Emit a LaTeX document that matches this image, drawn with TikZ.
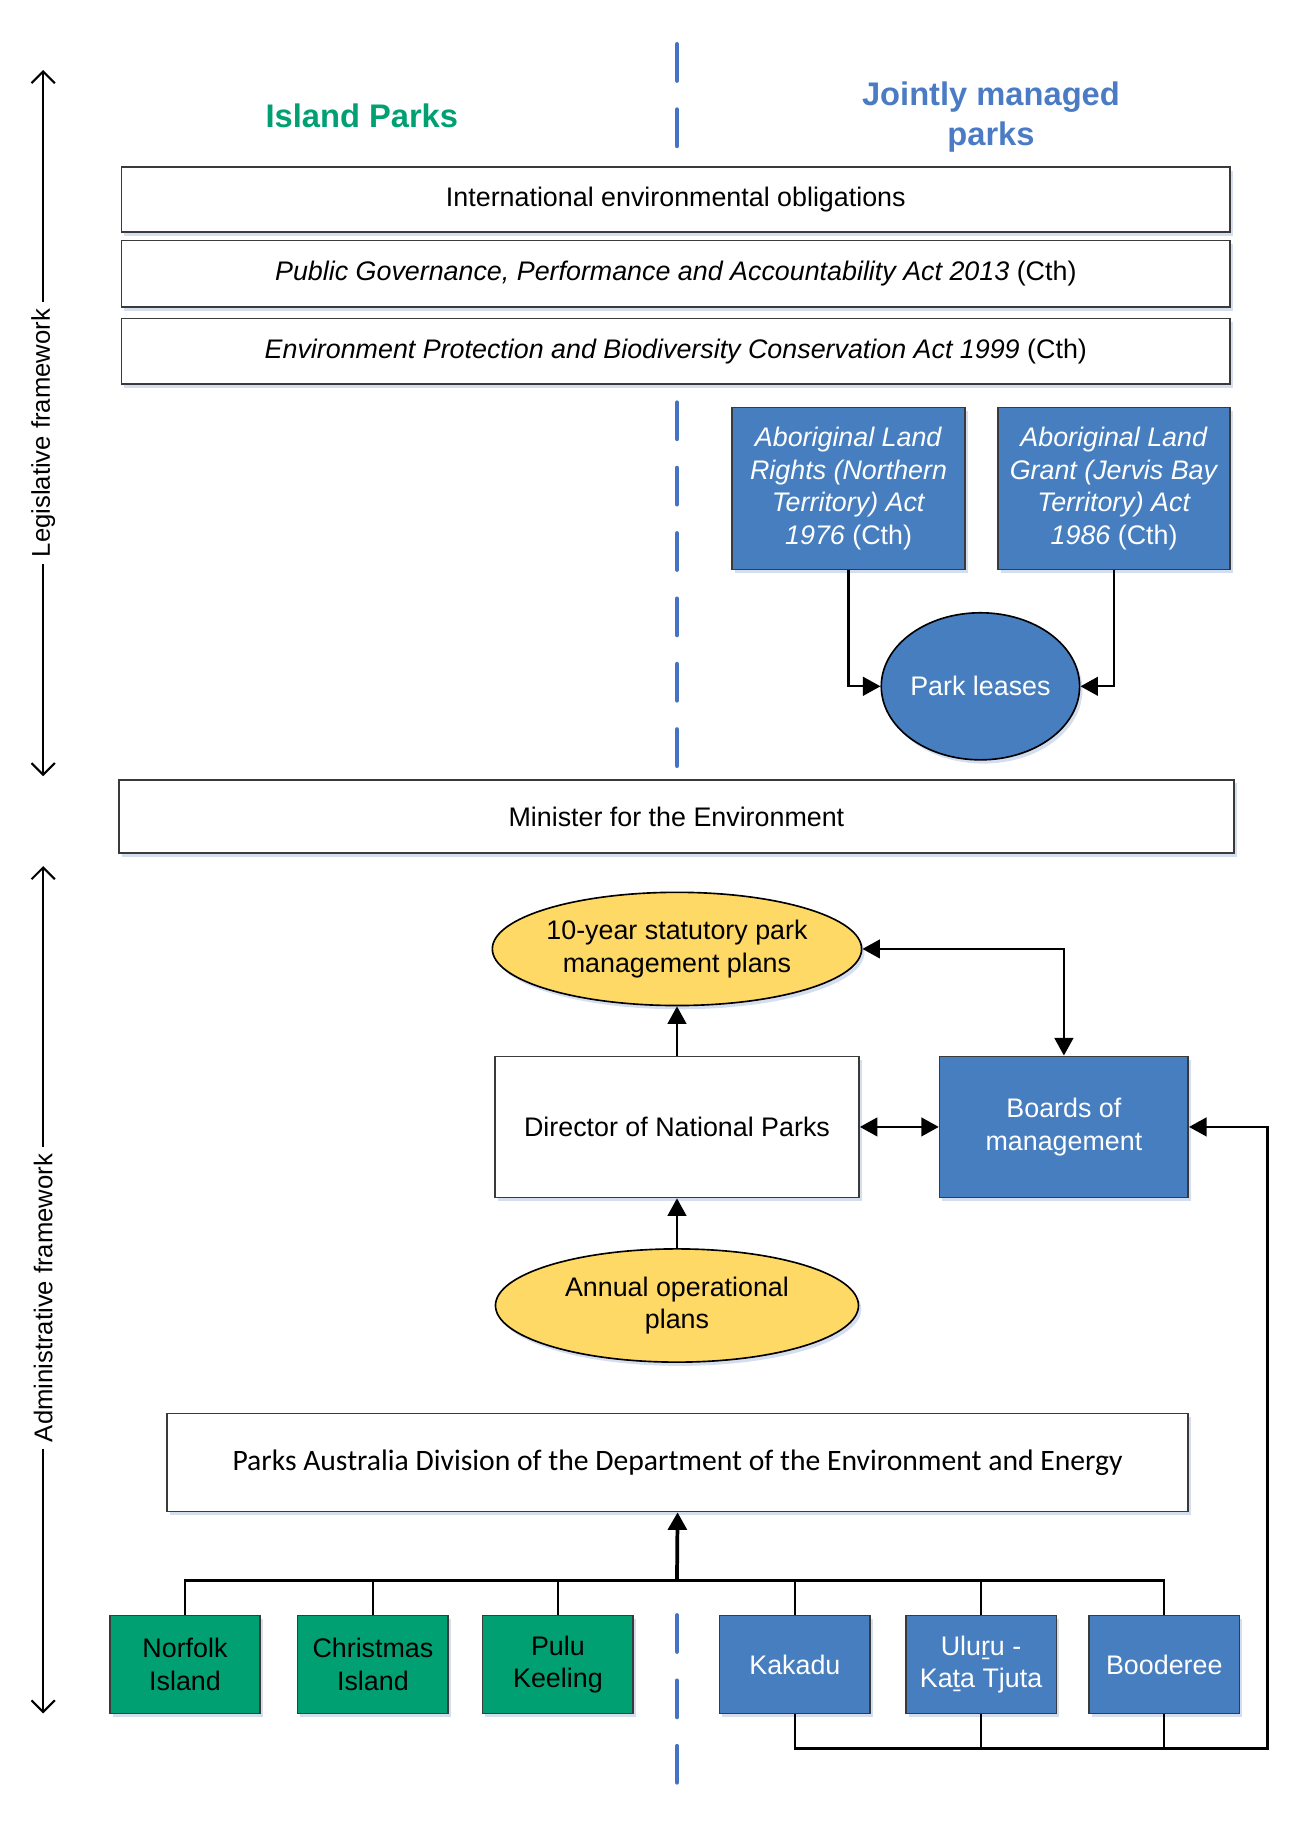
\documentclass[tikz,border=0pt]{standalone}
\usepackage{fontspec}
\setmainfont{Liberation Sans}
\newfontfamily\calibrifont{Carlito}
\usetikzlibrary{arrows.meta,shapes.geometric,shadows}
\definecolor{pblue}{HTML}{467EC0}
\definecolor{dblue}{HTML}{4472C4}
\definecolor{tblue}{HTML}{4A7BC4}
\definecolor{pgreen}{HTML}{00A073}
\definecolor{pyellow}{HTML}{FFD966}
\definecolor{bordc}{HTML}{3A3A3A}
\definecolor{shadc}{HTML}{C9D6EA}
\begin{document}
\begin{tikzpicture}[x=0.5pt,y=-0.5pt,
  font=\fontsize{11.5}{13.9}\selectfont,
  shad/.style={drop shadow={shadow xshift=1.2pt,shadow yshift=-1.6pt,fill=shadc,opacity=0.8}},
  wbox/.style={draw=bordc,line width=0.7pt,fill=white,inner sep=2pt,align=center,shad},
  bbox/.style={draw=bordc,line width=0.7pt,fill=pblue,text=white,inner sep=2pt,align=center,shad},
  gbox/.style={draw=bordc,line width=0.7pt,fill=pgreen,text=black,inner sep=2pt,align=center,shad},
  yell/.style={ellipse,draw=black,line width=0.7pt,fill=pyellow,inner sep=0pt,align=center,minimum width=155.5pt,minimum height=48.5pt,shad},
  conn/.style={draw=black,line width=1pt,-{Triangle[length=7.5pt,width=8pt]}},
  biconn/.style={draw=black,line width=1pt,{Triangle[length=7.5pt,width=8pt]}-{Triangle[length=7.5pt,width=8pt]}},
  line/.style={draw=black,line width=1pt},
  divider/.style={draw=dblue,line width=2pt,line cap=round,dash pattern=on 15.5pt off 12.5pt},
  sidearr/.style={draw=black,line width=0.9pt,{Straight Barb[length=5pt,width=10pt]}-{Straight Barb[length=5pt,width=10pt]}},
  sidelabel/.style={rotate=90,fill=white,inner sep=3pt,font=\fontsize{11}{13}\selectfont},
  title/.style={font=\fontsize{14}{17}\bfseries\selectfont,align=center}
]
\useasboundingbox (0,0) rectangle (1115,1567);

% dashed divider
\coordinate (d1a) at (580,38);  \coordinate (d1b) at (580,129);
\coordinate (d2a) at (580,345); \coordinate (d2b) at (580,658);
\coordinate (d3a) at (580,1384); \coordinate (d3b) at (580,1528);
\draw[divider] (d1a) -- (d1b);
\draw[divider] (d2a) -- (d2b);
\draw[divider] (d3a) -- (d3b);

% titles
\node[title,text=pgreen] (island) at (310,99) {Island Parks};
\node[title,text=tblue] (joint) at (849,100) {Jointly managed\\parks};

% side arrows
\coordinate (la) at (37,60); \coordinate (lb) at (37,665);
\draw[sidearr] (la) -- (lb);
\node[sidelabel] (leglab) at (37,371) {Legislative framework};
\coordinate (aa) at (37,742); \coordinate (ab) at (37,1468);
\draw[sidearr] (aa) -- (ab);
\node[sidelabel] (admlab) at (37,1112) {Administrative framework};

% legislative boxes
\node[wbox,minimum width=475pt,minimum height=28pt] (intl) at (579,171) {International environmental obligations};
\node[wbox,minimum width=475pt,minimum height=28.5pt] (pgpa) at (579,234.5) {\textit{Public Governance, Performance and Accountability Act 2013} (Cth)};
\node[wbox,minimum width=475pt,minimum height=28pt] (epbc) at (579,301) {\textit{Environment Protection and Biodiversity Conservation Act 1999} (Cth)};

\node[bbox,minimum width=100pt,minimum height=69.5pt] (alr) at (727,418.5) {\textit{Aboriginal Land}\\\textit{Rights (Northern}\\\textit{Territory) Act}\\\textit{1976} (Cth)};
\node[bbox,minimum width=99.5pt,minimum height=69.5pt] (alg) at (954.5,418.5) {\textit{Aboriginal Land}\\\textit{Grant (Jervis Bay}\\\textit{Territory) Act}\\\textit{1986} (Cth)};
\node[ellipse,draw=black,line width=0.7pt,fill=pblue,text=white,inner sep=0pt,minimum width=83pt,minimum height=63pt,shad] (lease) at (840,588) {Park leases};

\draw[conn] (alr.south) |- (lease.west);
\draw[conn] (alg.south) |- (lease.east);

\node[wbox,minimum width=477.5pt,minimum height=31.5pt] (minister) at (579.5,699.5) {Minister for the Environment};

% administrative
\node[yell] (plan10) at (580,813) {10-year statutory park\\management plans};
\node[wbox,minimum width=156pt,minimum height=60.5pt] (director) at (580,965.5) {Director of National Parks};
\node[bbox,minimum width=106.5pt,minimum height=60.5pt] (boards) at (911.5,965.5) {Boards of\\management};
\node[yell] (annual) at (580,1118.5) {Annual operational\\plans};
\node[wbox,minimum width=437.5pt,minimum height=42pt,font=\calibrifont\fontsize{12.7}{15}\selectfont] (pa) at (580.5,1253) {Parks Australia Division of the Department of the Environment and Energy};

\node[gbox,minimum width=64.5pt,minimum height=42pt] (norfolk) at (158.5,1426) {Norfolk\\Island};
\node[gbox,minimum width=64.5pt,minimum height=42pt] (christmas) at (319.5,1426) {Christmas\\Island};
\node[gbox,minimum width=64.5pt,minimum height=42pt] (pulu) at (478,1426) {Pulu\\Keeling};
\node[bbox,minimum width=64.5pt,minimum height=42pt] (kakadu) at (681,1426) {Kakadu};
\node[bbox,minimum width=64.5pt,minimum height=42pt] (uluru) at (840.5,1426) {Uluṟu -\\Kaṯa Tjuta};
\node[bbox,minimum width=64.5pt,minimum height=42pt] (booderee) at (997.5,1426) {Booderee};

\draw[conn] (annual.north) -- (director.south);
\draw[conn] (director.north) -- (plan10.south);
\draw[biconn] (director.east) -- (boards.west);
\draw[biconn] (plan10.east) -| (boards.north);

% top bus
\coordinate (bus) at (580,1354);
\draw[line] (norfolk.north) |- (booderee.north |- bus) -- (booderee.north);
\draw[line] (christmas.north) -- (christmas.north |- bus);
\draw[line] (pulu.north) -- (pulu.north |- bus);
\draw[line] (kakadu.north) -- (kakadu.north |- bus);
\draw[line] (uluru.north) -- (uluru.north |- bus);
\draw[conn,line width=1.6pt] (bus) -- (pa.south);

% bottom bus
\coordinate (rbend) at (1086,1498);
\draw[conn] (kakadu.south) |- (rbend) |- (boards.east);
\draw[line] (uluru.south) -- (uluru.south |- rbend);
\draw[line] (booderee.south) -- (booderee.south |- rbend);
\end{tikzpicture}
\end{document}
